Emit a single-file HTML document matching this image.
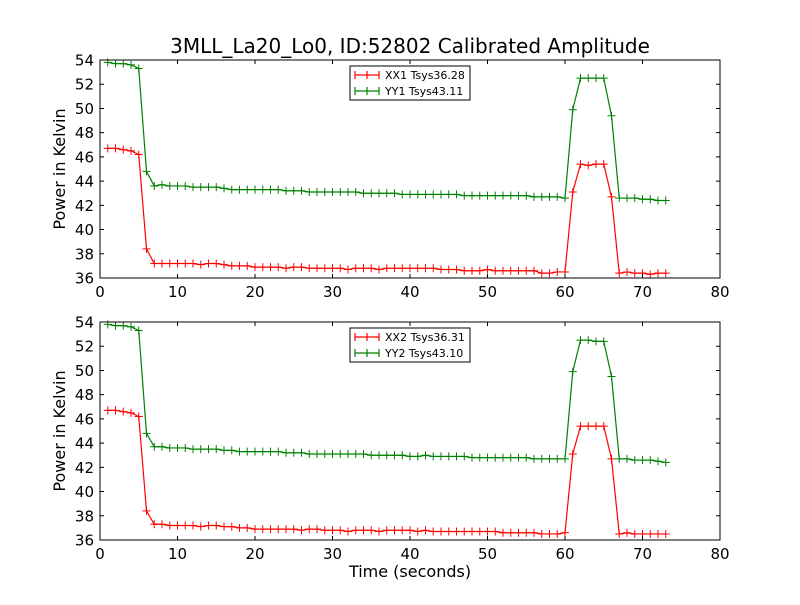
<!DOCTYPE html>
<html><head><meta charset="utf-8"><style>
body{margin:0;background:#fff}
svg{font-family:"DejaVu Sans","Liberation Sans",sans-serif}
</style></head><body>
<svg id="chart" width="800" height="600" viewBox="0 0 800 600">
<rect width="800" height="600" fill="#fff"/>
<text x="410" y="53" text-anchor="middle" font-size="20">3MLL_La20_Lo0, ID:52802 Calibrated Amplitude</text>
</svg>
<script>
const xTicks=[0,10,20,30,40,50,60,70,80];
const yTicks=[36,38,40,42,44,46,48,50,52,54];
const xx1=[46.7,46.7,46.6,46.5,46.2,38.4,37.2,37.2,37.2,37.2,37.2,37.2,37.1,37.2,37.2,37.1,37.0,37.0,37.0,36.9,36.9,36.9,36.9,36.8,36.9,36.9,36.8,36.8,36.8,36.8,36.8,36.7,36.8,36.8,36.8,36.7,36.8,36.8,36.8,36.8,36.8,36.8,36.8,36.7,36.7,36.7,36.6,36.6,36.6,36.7,36.6,36.6,36.6,36.6,36.6,36.6,36.4,36.4,36.5,36.5,43.1,45.4,45.3,45.4,45.4,42.7,36.4,36.5,36.4,36.4,36.3,36.4,36.4];
const yy1=[53.8,53.7,53.7,53.6,53.3,44.8,43.6,43.7,43.6,43.6,43.6,43.5,43.5,43.5,43.5,43.4,43.3,43.3,43.3,43.3,43.3,43.3,43.3,43.2,43.2,43.2,43.1,43.1,43.1,43.1,43.1,43.1,43.1,43.0,43.0,43.0,43.0,43.0,42.9,42.9,42.9,42.9,42.9,42.9,42.9,42.9,42.8,42.8,42.8,42.8,42.8,42.8,42.8,42.8,42.8,42.7,42.7,42.7,42.7,42.6,49.9,52.5,52.5,52.5,52.5,49.4,42.6,42.6,42.6,42.5,42.5,42.4,42.4];
const xx2=[46.7,46.7,46.6,46.5,46.2,38.4,37.3,37.3,37.2,37.2,37.2,37.2,37.1,37.2,37.2,37.1,37.1,37.0,37.0,36.9,36.9,36.9,36.9,36.9,36.9,36.8,36.9,36.9,36.8,36.8,36.8,36.7,36.8,36.8,36.8,36.7,36.8,36.8,36.8,36.8,36.7,36.8,36.7,36.7,36.7,36.7,36.7,36.7,36.7,36.7,36.7,36.6,36.6,36.6,36.6,36.6,36.5,36.5,36.5,36.6,43.1,45.4,45.4,45.4,45.4,42.7,36.5,36.6,36.5,36.5,36.5,36.5,36.5];
const yy2=[53.8,53.7,53.7,53.6,53.3,44.8,43.7,43.7,43.6,43.6,43.6,43.5,43.5,43.5,43.5,43.4,43.4,43.3,43.3,43.3,43.3,43.3,43.3,43.2,43.2,43.2,43.1,43.1,43.1,43.1,43.1,43.1,43.1,43.1,43.0,43.0,43.0,43.0,43.0,42.9,42.9,43.0,42.9,42.9,42.9,42.9,42.9,42.8,42.8,42.8,42.8,42.8,42.8,42.8,42.8,42.7,42.7,42.7,42.7,42.7,49.9,52.5,52.5,52.4,52.4,49.5,42.7,42.7,42.6,42.6,42.6,42.5,42.4];
const legend1=["XX1 Tsys36.28","YY1 Tsys43.11"];
const legend2=["XX2 Tsys36.31","YY2 Tsys43.10"];

const NS="http://www.w3.org/2000/svg";
const svg=document.getElementById('chart');
function mk(tag,attrs,parent){const e=document.createElementNS(NS,tag);for(const k in attrs)e.setAttribute(k,attrs[k]);(parent||svg).appendChild(e);return e;}
const L=100,R=720;
function sx(v){return L+(v-0)/(80-0)*(R-L);}
function panel(top,bottom,sA,sB,leg,suffix,showXLabel){
  const sy=v=>bottom-(v-36)/(54-36)*(bottom-top);
  const g=mk('g',{});
  
  
  function series(vals,color,name){
    const sg=mk('g',{},g);
    
    
    const pts=vals.map((v,i)=>sx(i+1).toFixed(2)+','+sy(v).toFixed(2)).join(' ');
    mk('polyline',{points:pts,fill:'none',stroke:color,'stroke-width':1.2},sg);
    vals.forEach((v,i)=>{
      const x=sx(i+1),y=sy(v);
      const m=mk('path',{d:`M${x-4},${y}H${x+4}M${x},${y-4}V${y+4}`,stroke:color,'stroke-width':1},sg);
      
      
    });
  }
  series(sA,'#ff0000','series-xx-'+suffix);
  series(sB,'#008000','series-yy-'+suffix);
  const f=mk('rect',{x:L,y:top,width:R-L,height:bottom-top,fill:'none',stroke:'#000','stroke-width':1},g);
  
  
  xTicks.forEach(t=>{
    const x=sx(t);
    mk('path',{d:`M${x},${bottom}v-4M${x},${top}v4`,stroke:'#000'},g);
    const tx=mk('text',{x:x,y:bottom+19,'text-anchor':'middle','font-size':15},g);
    tx.textContent=t;
    
    
  });
  yTicks.forEach(t=>{
    const y=sy(t);
    mk('path',{d:`M${L},${y}h4M${R},${y}h-4`,stroke:'#000'},g);
    const tx=mk('text',{x:L-6,y:y+5.5,'text-anchor':'end','font-size':15},g);
    tx.textContent=t;
    
    
  });
  const yl=mk('text',{x:0,y:0,'text-anchor':'middle','font-size':16,transform:`translate(65,${(top+bottom)/2}) rotate(-90)`},g);
  yl.textContent='Power in Kelvin';
  
  
  if(showXLabel){
    const xl=mk('text',{x:410,y:577,'text-anchor':'middle','font-size':16},g);
    xl.textContent='Time (seconds)';
    
    
  }
  const lg=mk('g',{},g);
  
  
  mk('rect',{x:350,y:top+6,width:120,height:34,fill:'#fff',stroke:'#000'},lg);
  [['#ff0000',leg[0]],['#008000',leg[1]]].forEach((e,i)=>{
    const y=top+15+i*16;
    const eg=mk('g',{},lg);
    
    
    mk('path',{d:`M355,${y}h24M367,${y-4}v8M355,${y-4}v8M379,${y-4}v8`,stroke:e[0],'stroke-width':1.2},eg);
    const t=mk('text',{x:385,y:y+4,'font-size':11},eg);
    t.textContent=e[1];
  });
}
panel(60,278,xx1,yy1,legend1,'top',false);
panel(322,540,xx2,yy2,legend2,'bottom',true);
</script>
</body></html>
